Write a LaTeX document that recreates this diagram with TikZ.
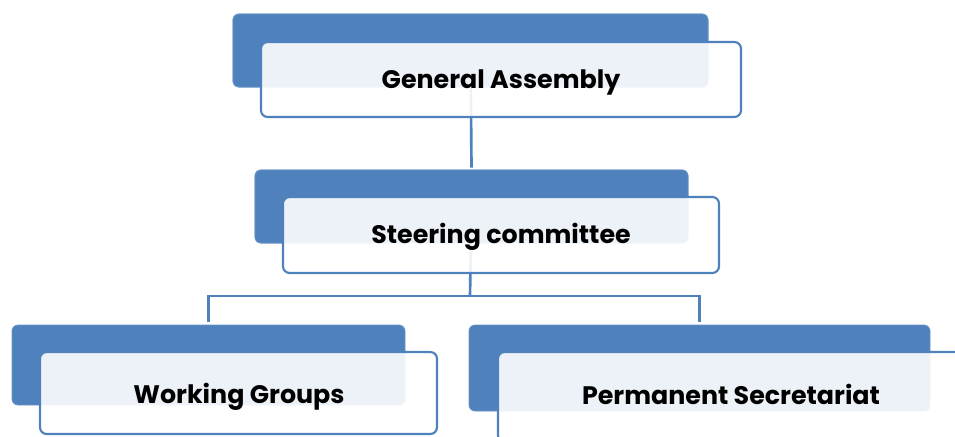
\documentclass[tikz,border=0pt]{standalone}
\usepackage{fontspec}
\setmainfont{Poppins}
\usetikzlibrary{fit}
\definecolor{accent}{HTML}{4F81BD}
\tikzset{
  backbox/.style={draw=accent!85!white, line width=0.6pt, fill=accent, rounded corners=4.5pt, inner sep=0pt},
  frontbox/.style={draw=accent, line width=1.6pt, fill=white, fill opacity=0.9,
    rounded corners=5pt, inner sep=0pt},
  label/.style={anchor=base, inner sep=0pt, text=black, font=\fontsize{19}{22}\selectfont\bfseries},
  conn/.style={draw=accent, line width=2pt}
}
\begin{document}
\begin{tikzpicture}[x=0.75pt, y=-0.75pt]
  \useasboundingbox (0,0) rectangle (955,436);
  % blue back plates
  \node[backbox, fit={(233,14) (708,87)}] (gab) {};
  \node[backbox, fit={(255,170) (688,243)}] (scb) {};
  \node[backbox, fit={(12,325) (405,405)}] (wgb) {};
  \node[backbox, fit={(469,325) (930,411)}] (psb) {};
  % connectors between the plates
  \coordinate (bus) at (470,296);
  \draw[conn] (gab.center) -- ([yshift=1.5pt]scb.north);
  \draw[conn] (scb.center) -- (bus);
  \draw[conn] ([yshift=2pt]wgb.north) |- (bus) -| ([yshift=2pt]psb.north);
  % plates drawn again over the connector ends
  \node[backbox, fit={(233,14) (708,87)}] {};
  \node[backbox, fit={(255,170) (688,243)}] {};
  % light front panels with their labels
  \node[frontbox, fit={(261,42) (741,117)}] (ga) {};
  \node[label] (gat) at (501,88) {General Assembly};
  \node[frontbox, fit={(283,197) (719,273)}] (sc) {};
  \node[label] (sct) at (501,243) {Steering committee};
  \node[frontbox, fit={(40,352) (437,434)}] (wg) {};
  \node[label] (wgt) at (239,403) {Working Groups};
  \node[frontbox, fit={(498,352) (966,442)}] (ps) {};
  \node[label] (pst) at (731,404) {Permanent Secretariat};
\end{tikzpicture}
\end{document}
